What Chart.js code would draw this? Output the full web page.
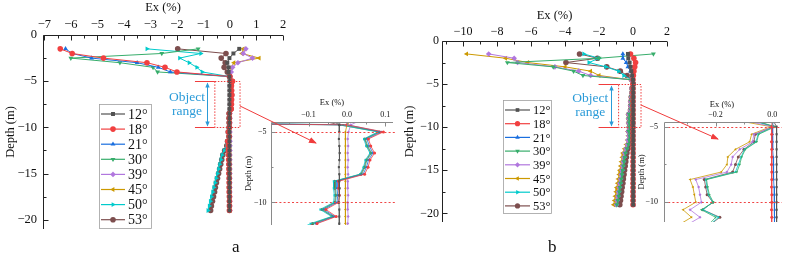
<!DOCTYPE html>
<html>
<head>
<meta charset="utf-8">
<script src="https://cdn.jsdelivr.net/npm/chart.js@4/dist/chart.umd.min.js"></script>
<style>
body { margin: 0; background: #fff; }
#wrap { position: relative; width: 789px; height: 257px; overflow: hidden; font-family: "Liberation Serif", "Times New Roman", serif; }
#wrap canvas, #wrap svg { position: absolute; left: 0; top: 0; }
.lab { position: absolute; font-size: 17px; color: #111; }
</style>
</head>
<body>
<div id="wrap">
  <canvas id="mainA" width="789" height="257"></canvas>
  <canvas id="insetA" width="789" height="257"></canvas>
  <canvas id="mainB" width="789" height="257"></canvas>
  <canvas id="insetB" width="789" height="257"></canvas>
  <svg width="789" height="257">
    <defs>
      <marker id="ah" markerWidth="8" markerHeight="8" refX="7" refY="4" orient="auto" markerUnits="userSpaceOnUse">
        <path d="M0,1 L8,4 L0,7 z" fill="#F03C3C"/>
      </marker>
    </defs>
    <line x1="240" y1="106" x2="316" y2="143" stroke="#F03C3C" stroke-width="1" marker-end="url(#ah)"/>
    <line x1="641" y1="105" x2="718" y2="139" stroke="#F03C3C" stroke-width="1" marker-end="url(#ah)"/>
  </svg>
  <div class="lab" style="left:232px;top:237px">a</div>
  <div class="lab" style="left:548px;top:237px">b</div>
</div>
<script>
// depth of each reading (m)
var depth = [-1.5,-2,-2.5,-3,-3.5,-4,-4.5,-5,-5.5,-6,-6.5,-7,-7.5,-8,-8.5,-9,-9.5,-10,-10.5,-11,-11.5,
             -12,-12.5,-13,-13.5,-14,-14.5,-15,-15.5,-16,-16.5,-17,-17.5,-18,-18.5,-19];
var names = ['12°','18°','21°','30°','39°','45°','50°','53°'];

// panel a, Ex (%)
var a12 = [0.35,0.13,-0.02,-0.1,-0.05,-0.05,-0.02,
           -0.02,-0.021,-0.02,-0.019,-0.02,-0.021,-0.02,-0.02,-0.019,-0.02,-0.021,-0.02,-0.02,-0.02,
           -0.02,-0.02,-0.02,-0.02,-0.02,-0.02,-0.02,-0.02,-0.02,-0.02,-0.02,-0.02,-0.02,-0.02,-0.02];
var a18 = [-6.4,-5.95,-4.77,-3.13,-2.45,-2.0,0.0,
           0.095,0.056,0.062,0.072,0.06,0.055,0.046,-0.022,-0.022,-0.02,-0.022,-0.055,-0.028,-0.078,
           -0.07,-0.06,-0.05,-0.05,-0.04,-0.04,-0.04,-0.03,-0.03,-0.03,-0.03,-0.02,-0.02,-0.02,-0.02];
var a21 = [-6.2,-5.95,-5.22,-3.5,-2.7,-2.25,0.0,
           0.09,0.052,0.058,0.068,0.056,0.051,0.042,-0.026,-0.026,-0.024,-0.026,-0.06,-0.032,-0.082,
           -0.07,-0.06,-0.06,-0.05,-0.05,-0.04,-0.04,-0.04,-0.03,-0.03,-0.03,-0.03,-0.02,-0.02,-0.02];
var a30 = [-1.2,-2.57,-6.0,-4.15,-2.9,-2.73,-0.01,
           0.086,0.048,0.054,0.064,0.052,0.047,0.038,-0.03,-0.03,-0.028,-0.03,-0.064,-0.036,-0.088,
           -0.08,-0.07,-0.06,-0.06,-0.05,-0.05,-0.05,-0.04,-0.04,-0.04,-0.03,-0.03,-0.03,-0.03,-0.03];
var a39 = [0.6,0.5,0.85,0.3,0.1,0.05,0.01,
           0.004,0.002,0.003,0.002,0.003,0.002,0.003,0.002,0.002,0.003,0.002,0.002,0.003,0.002,
           0.0,0.0,0.0,0.0,0.0,0.0,0.0,0.0,0.0,0.0,0.0,0.0,0.0,0.0,0.0];
var a45 = [0.5,0.45,1.1,0.15,0.05,0.02,0.0,
           -0.004,-0.004,-0.004,-0.004,-0.004,-0.004,-0.004,-0.004,-0.004,-0.004,-0.004,-0.004,-0.004,-0.004,
           0.0,0.0,0.0,0.0,0.0,0.0,0.0,0.0,0.0,0.0,0.0,0.0,0.0,0.0,0.0];
var a50 = [-3.13,-1.1,-1.9,-1.54,-1.25,-1.05,-0.02,
           0.08,0.044,0.05,0.06,0.048,0.043,0.034,-0.035,-0.035,-0.033,-0.035,-0.07,-0.04,-0.095,
           -0.13,-0.22,-0.3,-0.34,-0.39,-0.43,-0.47,-0.52,-0.56,-0.61,-0.65,-0.7,-0.74,-0.78,-0.83];
var a53 = [-1.97,-0.15,-0.33,-0.18,-0.22,-0.1,-0.02,
           0.084,0.046,0.052,0.062,0.05,0.045,0.036,-0.032,-0.032,-0.03,-0.032,-0.066,-0.038,-0.09,
           -0.12,-0.2,-0.27,-0.31,-0.35,-0.39,-0.43,-0.47,-0.51,-0.55,-0.58,-0.62,-0.66,-0.7,-0.73];

// panel b, Ex (%)
var b12 = [-0.3,-0.28,-0.2,-0.15,-0.1,-0.05,0.0,
           0.015,0.015,0.015,0.015,0.015,0.015,0.015,0.015,0.015,0.015,0.015,0.015,0.015,0.015,
           0.01,0.01,0.01,0.01,0.01,0.01,0.01,0.01,0.01,0.01,0.01,0.01,0.01,0.01,0.01];
var b18 = [-0.15,0.05,0.15,0.1,0.05,0.02,0.0,
           -0.002,-0.002,-0.003,-0.002,-0.002,-0.003,-0.002,-0.002,-0.003,-0.002,-0.002,-0.003,-0.002,-0.002,
           0.0,0.0,0.0,0.0,0.0,0.0,0.0,0.0,0.0,0.0,0.0,0.0,0.0,0.0,0.0];
var b21 = [-0.6,-0.6,-0.4,-0.3,-0.15,-0.05,0.0,
           0.0,0.001,0.002,0.002,0.003,0.004,0.004,0.005,0.006,0.006,0.007,0.008,0.008,0.009,
           0.01,0.01,0.01,0.01,0.01,0.01,0.01,0.01,0.01,0.01,0.01,0.01,0.01,0.01,0.01];
var b30 = [1.2,-2.0,-7.4,-4.7,-3.5,-2.95,-0.08,
           0.01,-0.048,-0.055,-0.095,-0.108,-0.115,-0.125,-0.232,-0.228,-0.222,-0.208,-0.25,-0.2,-0.225,
           -0.27,-0.36,-0.45,-0.49,-0.53,-0.57,-0.61,-0.65,-0.69,-0.73,-0.77,-0.81,-0.85,-0.9,-0.95];
var b39 = [-8.5,-7.0,-6.8,-4.6,-3.2,-2.5,-0.12,
           0.0,-0.065,-0.07,-0.115,-0.14,-0.145,-0.16,-0.27,-0.26,-0.255,-0.25,-0.29,-0.255,-0.3,
           -0.33,-0.42,-0.5,-0.54,-0.58,-0.62,-0.66,-0.7,-0.74,-0.78,-0.82,-0.86,-0.9,-0.94,-0.98];
var b45 = [-9.8,-7.5,-6.2,-4.0,-2.5,-2.0,-0.15,
           -0.005,-0.073,-0.08,-0.13,-0.157,-0.16,-0.18,-0.29,-0.28,-0.275,-0.27,-0.315,-0.285,-0.33,
           -0.4,-0.5,-0.6,-0.64,-0.69,-0.73,-0.78,-0.82,-0.87,-0.91,-0.96,-1.0,-1.05,-1.09,-1.14];
var b50 = [-2.9,-2.0,-2.6,-1.6,-0.85,-0.55,-0.09,
           0.005,-0.05,-0.058,-0.098,-0.11,-0.12,-0.13,-0.235,-0.23,-0.225,-0.21,-0.245,-0.19,-0.22,
           -0.28,-0.38,-0.47,-0.51,-0.55,-0.59,-0.63,-0.67,-0.71,-0.75,-0.79,-0.83,-0.88,-0.92,-0.97];
var b53 = [-3.15,-2.1,-3.95,-1.55,-0.75,-0.35,-0.08,
           0.005,-0.06,-0.065,-0.1,-0.12,-0.13,-0.14,-0.24,-0.235,-0.23,-0.21,-0.245,-0.185,-0.22,
           -0.25,-0.3,-0.36,-0.39,-0.43,-0.46,-0.5,-0.53,-0.57,-0.6,-0.64,-0.67,-0.71,-0.74,-0.78];

var seriesA = [a12, a18, a21, a30, a39, a45, a50, a53];
var seriesB = [b12, b18, b21, b30, b39, b45, b50, b53];

var colors = ['#515151','#F14040','#1A6FDF','#37AD6B','#B177DE','#CC9900','#00CBCC','#7D4E4E'];
var shapes = ['rect','circle','triangle','triangle','rectRot','triangle','triangle','circle'];
var turns = [0, 0, 0, 180, 0, 270, 90, 0];

Chart.defaults.font.family = '"Liberation Serif", "Times New Roman", serif';
Chart.defaults.color = '#111';
Chart.defaults.animation = false;

function fmt(v, dec) {
  v = Math.round(v * 1e6) / 1e6;
  var s = Math.abs(v).toFixed(dec);
  return v < 0 ? '\u2212' + s : s;
}

function build(series, r, lw, clip) {
  return series.map(function (s, i) {
    return {
      label: names[i],
      data: s.map(function (v, k) { return {x: v, y: depth[k]}; }),
      showLine: true,
      borderColor: colors[i],
      backgroundColor: colors[i],
      borderWidth: lw,
      pointRadius: r,
      pointHoverRadius: r,
      pointBorderWidth: 0,
      pointStyle: shapes[i],
      pointRotation: turns[i],
      clip: clip
    };
  });
}

// axis lines + inward ticks
var frame = {
  id: 'frame',
  afterDraw: function (chart, args, o) {
    var ctx = chart.ctx, a = chart.chartArea, xs = chart.scales.x, ys = chart.scales.y;
    var L = Math.round(a.left) + 0.5, T = Math.round(a.top) + 0.5;
    ctx.save();
    ctx.strokeStyle = o.color;
    ctx.lineWidth = 1;
    ctx.beginPath();
    ctx.moveTo(L, a.bottom); ctx.lineTo(L, T); ctx.lineTo(a.right, T);
    var k, v, big, p;
    for (k = Math.ceil(xs.min / o.xMinor - 1e-6); k * o.xMinor <= xs.max + 1e-9; k++) {
      v = k * o.xMinor;
      big = Math.abs(v / o.xStep - Math.round(v / o.xStep)) < 1e-6;
      p = Math.round(xs.getPixelForValue(v)) + 0.5;
      ctx.moveTo(p, T); ctx.lineTo(p, T + (big ? o.major : o.minor));
    }
    for (k = Math.ceil(ys.min / o.yMinor - 1e-6); k * o.yMinor <= ys.max + 1e-9; k++) {
      v = k * o.yMinor;
      big = Math.abs(v / o.yStep - Math.round(v / o.yStep)) < 1e-6;
      p = Math.round(ys.getPixelForValue(v)) + 0.5;
      ctx.moveTo(L, p); ctx.lineTo(L + (big ? o.major : o.minor), p);
    }
    ctx.stroke();
    ctx.restore();
  }
};

// legend box inside the plot
var keyBox = {
  id: 'keyBox',
  afterDraw: function (chart, args, o) {
    var ctx = chart.ctx;
    ctx.save();
    ctx.fillStyle = '#fff';
    ctx.fillRect(o.x, o.y, o.w, o.h);
    ctx.strokeStyle = '#a0a0a0';
    ctx.lineWidth = 0.8;
    ctx.strokeRect(o.x + 0.5, o.y + 0.5, o.w, o.h);
    ctx.font = o.size + 'px "Liberation Serif", serif';
    ctx.textBaseline = 'middle';
    chart.data.datasets.forEach(function (d, i) {
      var y = o.row + i * o.gap;
      ctx.strokeStyle = d.borderColor;
      ctx.lineWidth = 1.2;
      ctx.beginPath(); ctx.moveTo(o.x + 2, y); ctx.lineTo(o.x + 2 + o.len, y); ctx.stroke();
      ctx.fillStyle = d.backgroundColor;
      if (Chart.helpers && Chart.helpers.drawPoint) {
        Chart.helpers.drawPoint(ctx, {pointStyle: d.pointStyle, rotation: d.pointRotation, radius: o.r, borderWidth: 0}, o.x + 2 + o.len / 2, y);
      } else {
        ctx.beginPath(); ctx.arc(o.x + 2 + o.len / 2, y, o.r, 0, 2 * Math.PI); ctx.fill();
      }
      ctx.fillStyle = '#111';
      ctx.fillText(d.label, o.x + o.len + 5, y + 1);
    });
    ctx.restore();
  }
};

// "Object range" marking in the main plots
var objRange = {
  id: 'objRange',
  afterDatasetsDraw: function (chart, args, o) {
    var ctx = chart.ctx, xs = chart.scales.x, ys = chart.scales.y;
    var X = function (v) { return xs.getPixelForValue(v); };
    var Y = function (v) { return Math.round(ys.getPixelForValue(v)) + 0.5; };
    var y0 = Y(o.from), y1 = Y(o.to);
    ctx.save();
    ctx.strokeStyle = '#F03C3C';
    ctx.lineWidth = 1;
    ctx.beginPath();
    ctx.moveTo(X(o.start), y0); ctx.lineTo(X(o.box0), y0);
    ctx.moveTo(X(o.start), y1); ctx.lineTo(X(o.box0), y1);
    ctx.stroke();
    ctx.setLineDash([1.5, 1.5]);
    ctx.strokeRect(X(o.box0), y0, X(o.box1) - X(o.box0), y1 - y0);
    ctx.setLineDash([]);
    var ax = Math.round(X(o.arrow)) + 0.5;
    ctx.strokeStyle = '#2B9BD8';
    ctx.fillStyle = '#2B9BD8';
    ctx.beginPath(); ctx.moveTo(ax, y0 + 2); ctx.lineTo(ax, y1 - 2); ctx.stroke();
    ctx.beginPath();
    ctx.moveTo(ax, y0 + 1); ctx.lineTo(ax - 2.2, y0 + 6); ctx.lineTo(ax + 2.2, y0 + 6); ctx.closePath();
    ctx.moveTo(ax, y1 - 1); ctx.lineTo(ax - 2.2, y1 - 6); ctx.lineTo(ax + 2.2, y1 - 6); ctx.closePath();
    ctx.fill();
    ctx.font = o.size + 'px "Liberation Serif", serif';
    ctx.textAlign = 'center';
    ctx.textBaseline = 'middle';
    ctx.fillText('Object', X(o.textX), ys.getPixelForValue(o.textY0));
    ctx.fillText('range', X(o.textX), ys.getPixelForValue(o.textY1));
    ctx.restore();
  }
};

// dotted red depth lines in the zoom views
var refLines = {
  id: 'refLines',
  afterDatasetsDraw: function (chart, args, o) {
    var ctx = chart.ctx, a = chart.chartArea, ys = chart.scales.y;
    ctx.save();
    ctx.strokeStyle = '#F04545';
    ctx.lineWidth = 1.2;
    ctx.setLineDash([2, 2.2]);
    ctx.beginPath();
    o.at.forEach(function (d) {
      var y = Math.round(ys.getPixelForValue(d)) + 0.5;
      ctx.moveTo(a.left, y); ctx.lineTo(a.right + o.ext, y);
    });
    ctx.stroke();
    ctx.restore();
  }
};

function profile(id, series, c, extra, extraOpts) {
  var pl = {frame: c.frame};
  for (var key in extraOpts) pl[key] = extraOpts[key];
  pl.legend = {display: false};
  pl.tooltip = {enabled: false};
  return new Chart(document.getElementById(id), {
    type: 'scatter',
    data: {datasets: build(series, c.r, c.lw, c.clip)},
    options: {
      responsive: false,
      animation: false,
      events: [],
      layout: {padding: {left: c.pad.left, top: c.pad.top, right: 789 - c.area.right, bottom: 257 - c.area.bottom}},
      scales: {
        x: {
          type: 'linear', position: 'top', min: c.x[0], max: c.x[1],
          grid: {display: false, drawTicks: false},
          border: {display: false},
          ticks: {stepSize: c.x[2], includeBounds: false, autoSkip: false, maxRotation: 0,
                  padding: c.xpad, font: {size: c.fs},
                  callback: function (v) { return fmt(v, c.dec); }},
          title: {display: true, text: 'Ex (%)', padding: {top: c.xtp, bottom: 0}, font: {size: c.ts}},
          afterFit: function (s) { s.height = c.area.top - c.pad.top; }
        },
        y: {
          type: 'linear', position: 'left', min: c.y[0], max: c.y[1],
          grid: {display: false, drawTicks: false},
          border: {display: false},
          ticks: {stepSize: c.y[2], includeBounds: false, autoSkip: false,
                  padding: c.ypad, font: {size: c.fs},
                  callback: function (v) { return fmt(v, 0); }},
          title: {display: true, text: 'Depth (m)', padding: {top: c.ytp, bottom: 0}, font: {size: c.ts}},
          afterFit: function (s) { s.width = c.area.left - c.pad.left; }
        }
      },
      plugins: pl
    },
    plugins: [frame].concat(extra)
  });
}

profile('mainA', seriesA, {
  x: [-7.05, 2, 1], y: [-21, 0, 5], dec: 0,
  area: {left: 43, top: 35, right: 283, bottom: 229}, pad: {left: 0, top: 0},
  fs: 12.5, ts: 12.5, xpad: 2.5, ypad: 6, xtp: 0, ytp: 3.5,
  r: 2.8, lw: 1, clip: undefined,
  frame: {color: '#222', xStep: 1, xMinor: 0.5, yStep: 5, yMinor: 2.5, major: 5, minor: 3}
}, [objRange, keyBox], {
  objRange: {from: -5, to: -10, start: -1.32, box0: -0.57, box1: 0.38, arrow: -0.88,
             textX: -1.62, textY0: -6.8, textY1: -8.3, size: 13.5},
  keyBox: {x: 99, y: 104, w: 52, h: 124, row: 114, gap: 15.1, len: 24, r: 2.8, size: 14}
});

profile('insetA', seriesA, {
  x: [-0.198, 0.12, 0.1], y: [-11.6, -4.3, 5], dec: 1,
  area: {left: 271, top: 122, right: 393, bottom: 225}, pad: {left: 240, top: 90},
  fs: 8, ts: 8.5, xpad: 2, ypad: 4.5, xtp: 7.9, ytp: 3.9,
  r: 1.5, lw: 0.8, clip: 0,
  frame: {color: '#8a8a8a', xStep: 0.1, xMinor: 0.05, yStep: 5, yMinor: 2.5, major: 4, minor: 2}
}, [refLines], {
  refLines: {at: [-5, -10], ext: 4}
});

profile('mainB', seriesB, {
  x: [-11.25, 2, 2], y: [-21, 0, 5], dec: 0,
  area: {left: 442, top: 41, right: 667, bottom: 222}, pad: {left: 395, top: 0},
  fs: 12, ts: 12.5, xpad: 1.8, ypad: 3, xtp: 7.8, ytp: 7.5,
  r: 2.8, lw: 1, clip: undefined,
  frame: {color: '#222', xStep: 2, xMinor: 1, yStep: 5, yMinor: 2.5, major: 5, minor: 3}
}, [objRange, keyBox], {
  objRange: {from: -5, to: -10, start: -2.03, box0: -0.85, box1: 0.47, arrow: -1.3,
             textX: -2.52, textY0: -6.64, textY1: -8.26, size: 13.5},
  keyBox: {x: 503, y: 100, w: 48, h: 113, row: 110, gap: 13.7, len: 25, r: 2.6, size: 12.5}
});

profile('insetB', seriesB, {
  x: [-0.382, 0.027, 0.2], y: [-11.31, -4.69, 5], dec: 1,
  area: {left: 664, top: 122, right: 780, bottom: 222}, pad: {left: 630, top: 90},
  fs: 8, ts: 8.5, xpad: 2.5, ypad: 6, xtp: 9.9, ytp: 6.6,
  r: 1.5, lw: 0.8, clip: 0,
  frame: {color: '#8a8a8a', xStep: 0.2, xMinor: 0.1, yStep: 5, yMinor: 2.5, major: 4, minor: 2}
}, [refLines], {
  refLines: {at: [-5, -10], ext: 2}
});
</script>
</body>
</html>
